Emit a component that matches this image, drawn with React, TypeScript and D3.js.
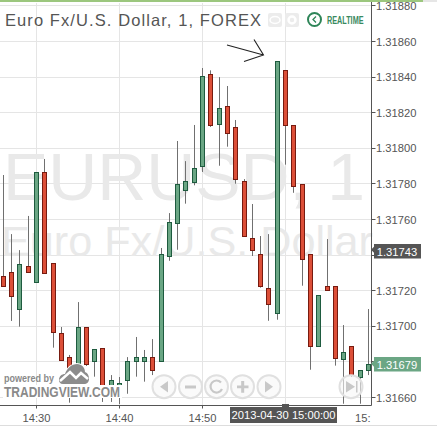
import React from "react";
import * as d3 from "d3";

const startMinute = 14 * 60 + 26;
const opens = [1.317277,1.317303,1.317093,1.317337,1.317245,1.317865,1.317355,1.316957,1.316827,1.316771,1.316996,1.316801,1.316878,1.316664,1.316664,1.316698,1.316801,1.316799,1.316827,1.316803,1.317393,1.317578,1.317764,1.317807,1.317899,1.318416,1.318135,1.318236,1.318118,1.317814,1.317494,1.317404,1.317213,1.317073,1.318438,1.318127,1.317798,1.317404,1.316885,1.317225,1.317225,1.316812,1.316887,1.316711,1.316750];
const closes = [1.317222,1.317166,1.317348,1.317301,1.317865,1.317295,1.316968,1.316805,1.316670,1.316996,1.316786,1.316867,1.316614,1.316694,1.316676,1.316805,1.316823,1.316823,1.316754,1.317404,1.317584,1.317798,1.317812,1.317885,1.318404,1.318129,1.318225,1.318082,1.317826,1.317505,1.317427,1.317222,1.317123,1.318489,1.318127,1.317786,1.317376,1.316885,1.317174,1.317205,1.316823,1.316854,1.316722,1.316753,1.316784];
const highs = [1.317850,1.317518,1.317428,1.317620,1.317865,1.317940,1.317355,1.316996,1.316839,1.317136,1.316996,1.316867,1.316878,1.316726,1.316715,1.316827,1.316940,1.316867,1.316928,1.317440,1.317636,1.318041,1.317928,1.318131,1.318451,1.318438,1.318400,1.318350,1.318159,1.317827,1.317687,1.317507,1.317518,1.318489,1.318438,1.318127,1.317798,1.317404,1.317174,1.317490,1.317225,1.317007,1.316887,1.316753,1.317097];
const lows = [1.317222,1.317030,1.316998,1.317301,1.317245,1.317295,1.316880,1.316805,1.316571,1.316771,1.316777,1.316717,1.316575,1.316575,1.316563,1.316621,1.316717,1.316689,1.316726,1.316803,1.317368,1.317430,1.317689,1.317792,1.317867,1.318120,1.317902,1.318009,1.317801,1.317505,1.317395,1.317217,1.317031,1.317037,1.317908,1.317750,1.317228,1.316756,1.316885,1.317205,1.316779,1.316565,1.316715,1.316565,1.316726];

const priceTicks = [1.3188,1.3186,1.3184,1.3182,1.318,1.3178,1.3176,1.3174,1.3172,1.317,1.3168,1.3166];
const hiddenPriceLabels = [1.3174, 1.3168];
const timeTicks = [870, 880, 890, 900];
const timeLabels = ["14:30", "14:40", "14:50", "15:"];
const lastPrices = [1.31743, 1.31679];
const buttonXs = [164, 190.5, 216.5, 242.5, 269, 351];

const FONT = "'Liberation Sans', Arial, sans-serif";
const GRID = "#e5e5e5";
const TEXT = "#555";

const y = d3.scaleLinear().domain([1.3166, 1.3186]).range([397.5, 41.5]);
const x = d3.scaleLinear().domain([870, 880]).range([36.5, 119.5]);
const axisX = 371.5;
const axisY = 405.5;
const crisp = (v: number) => Math.round(v - 0.5) + 0.5;

const arrowPath = d3.line()([[227, 45], [263.5, 55]]) + " " + d3.line()([[254, 39.5], [263.5, 55], [244, 61.5]]);

export default function App() {
  return (
    <svg width={437} height={431} style={{ position: "absolute", left: 0, top: 0, display: "block", background: "#fff" }} fontFamily={FONT}>
      {priceTicks.map((p) => (
        <line key={p} x1={0} x2={axisX} y1={crisp(y(p))} y2={crisp(y(p))} stroke={GRID} />
      ))}
      {timeTicks.map((t) => (
        <line key={t} x1={crisp(x(t))} x2={crisp(x(t))} y1={3} y2={axisY} stroke={GRID} />
      ))}

      <text x={3} y={200} fontSize={66} fill="#e9e9e9" textLength={362} lengthAdjust="spacingAndGlyphs">EURUSD, 1</text>
      <text x={1} y={256} fontSize={42} fill="#e9e9e9" textLength={372} lengthAdjust="spacingAndGlyphs">Euro Fx/U.S. Dollar</text>

      {opens.map((o, i) => {
        const cx = crisp(x(startMinute + i));
        const up = closes[i] >= o;
        const top = y(Math.max(o, closes[i]));
        const bottom = y(Math.min(o, closes[i]));
        return (
          <g key={i}>
            <line x1={cx} x2={cx} y1={y(highs[i])} y2={y(lows[i])} stroke="#707070" />
            <rect
              x={cx - 2}
              y={crisp(top)}
              width={4}
              height={Math.max(1, Math.round(bottom - top))}
              fill={up ? "#6aa684" : "#dc4f38"}
              stroke={up ? "#1e5b3f" : "#771b10"}
            />
          </g>
        );
      })}

      <rect x={0} y={0} width={423} height={2} fill="#9cc77e" />
      <rect x={423} y={0} width={14} height={2} fill="#e6e6e6" />
      <line x1={axisX} x2={axisX} y1={2} y2={axisY} stroke="#555" />
      <line x1={0} x2={axisX} y1={axisY} y2={axisY} stroke="#555" />
      <line x1={0} x2={437} y1={425.5} y2={425.5} stroke="#ddd" />

      <text x={5} y={26} fontSize={16.5} fill={TEXT} textLength={256} lengthAdjust="spacing">Euro Fx/U.S. Dollar, 1, FOREX</text>

      <path d={arrowPath} fill="none" stroke="#222" strokeWidth={1.1} />

      <rect x={268} y={13} width={14} height={14} rx={2} fill="#ececec" />
      <ellipse cx={275} cy={20} rx={5} ry={3.5} fill="none" stroke="#fff" strokeWidth={1.5} />
      <rect x={285} y={13} width={14} height={14} rx={2} fill="#ececec" />
      <circle cx={292} cy={20} r={3.5} fill="none" stroke="#fff" strokeWidth={2.5} />
      <circle cx={314.5} cy={19.5} r={6.5} fill="none" stroke="#2e8558" strokeWidth={2} />
      <path d="M316 16.5 L313 19.5 L316 22.5" fill="none" stroke="#2e8558" strokeWidth={1.3} />
      <text x={327} y={24} fontSize={11} fontWeight="bold" fill="#3a8a60" textLength={36.5} lengthAdjust="spacingAndGlyphs">REALTIME</text>

      {priceTicks.map((p) => (
        <g key={p}>
          <line x1={axisX} x2={axisX + 4} y1={crisp(y(p))} y2={crisp(y(p))} stroke="#555" />
          {!hiddenPriceLabels.includes(p) && (
            <text x={376} y={y(p) + 4} fontSize={11.2} fill={TEXT}>{p.toFixed(5)}</text>
          )}
        </g>
      ))}

      {timeTicks.map((t, i) => (
        <g key={t}>
          <line x1={crisp(x(t))} x2={crisp(x(t))} y1={axisY} y2={axisY + 3} stroke="#555" />
          <text x={t === 900 ? 355 : x(t)} y={421.5} fontSize={11.2} fill={TEXT} textAnchor={t === 900 ? "start" : "middle"}>{timeLabels[i]}</text>
        </g>
      ))}

      <path d={`M371 ${y(lastPrices[0])} L374 ${y(lastPrices[0]) - 3} V244 H421 V258.5 H374 V${y(lastPrices[0]) + 3} Z`} fill="#555" />
      <text x={397} y={255.5} fontSize={11.2} fill="#fff" textAnchor="middle">{lastPrices[0].toFixed(5)}</text>
      <path d={`M371 ${y(lastPrices[1])} L374 ${y(lastPrices[1]) - 3} V357 H421 V371.5 H374 V${y(lastPrices[1]) + 3} Z`} fill="#6ba684" />
      <text x={397} y={368.5} fontSize={11.2} fill="#fff" textAnchor="middle">{lastPrices[1].toFixed(5)}</text>

      <rect x={282} y={404} width={7} height={4} fill="#555" />
      <rect x={230} y={407} width={107} height={16} fill="#555" />
      <text x={283.5} y={419} fontSize={11.2} fill="#fff" textAnchor="middle">2013-04-30 15:00:00</text>

      <rect x={3} y={385} width={119} height={13} fill="#fff" />
      <path
        d="M59 380 C59 376 62 374 65 374 C67 368 72 364 77 364 C82 364 85 368 85 372 C88 373 89 376 89 379 C89 382 87 384 84 384 L63 384 C60 384 59 382 59 380 Z"
        fill="#8c8c8c"
        stroke="#fff"
        strokeWidth={2}
        paintOrder="stroke"
      />
      <path d="M60 381 L70 372 L76 378 L81 373 L88 379" fill="none" stroke="#fff" strokeWidth={2.5} />
      <text x={4} y={381.5} fontSize={11} fontWeight="bold" fill="#8a8a8a" textLength={50} lengthAdjust="spacingAndGlyphs">powered by</text>
      <text x={4} y={396.5} fontSize={14.5} fontWeight="bold" fill="#8a8a8a" textLength={116} lengthAdjust="spacingAndGlyphs">TRADINGVIEW.COM</text>

      {buttonXs.map((bx) => (
        <circle key={bx} cx={bx} cy={386.7} r={11.5} fill="#f6f6f6" fillOpacity={0.6} stroke="#e0e0e0" strokeWidth={2} />
      ))}
      <path d="M160 386.7 L168 381 V392.5 Z" fill="#c8c8c8" />
      <rect x={185} y={385.5} width={11} height={3} fill="#c8c8c8" />
      <path d="M221 382.5 A6 6 0 1 0 222 389" fill="none" stroke="#c8c8c8" strokeWidth={2.2} />
      <path d="M237 385.5 H241.2 V381 H244.2 V385.5 H248.5 V388.3 H244.2 V392.7 H241.2 V388.3 H237 Z" fill="#c8c8c8" />
      <path d="M273 386.7 L265 381 V392.5 Z" fill="#c8c8c8" />
      <path d="M355 386.7 L346 381 V392.5 Z" fill="#c8c8c8" />
      <rect x={356} y={381} width={1.5} height={11.5} fill="#c8c8c8" />
    </svg>
  );
}
